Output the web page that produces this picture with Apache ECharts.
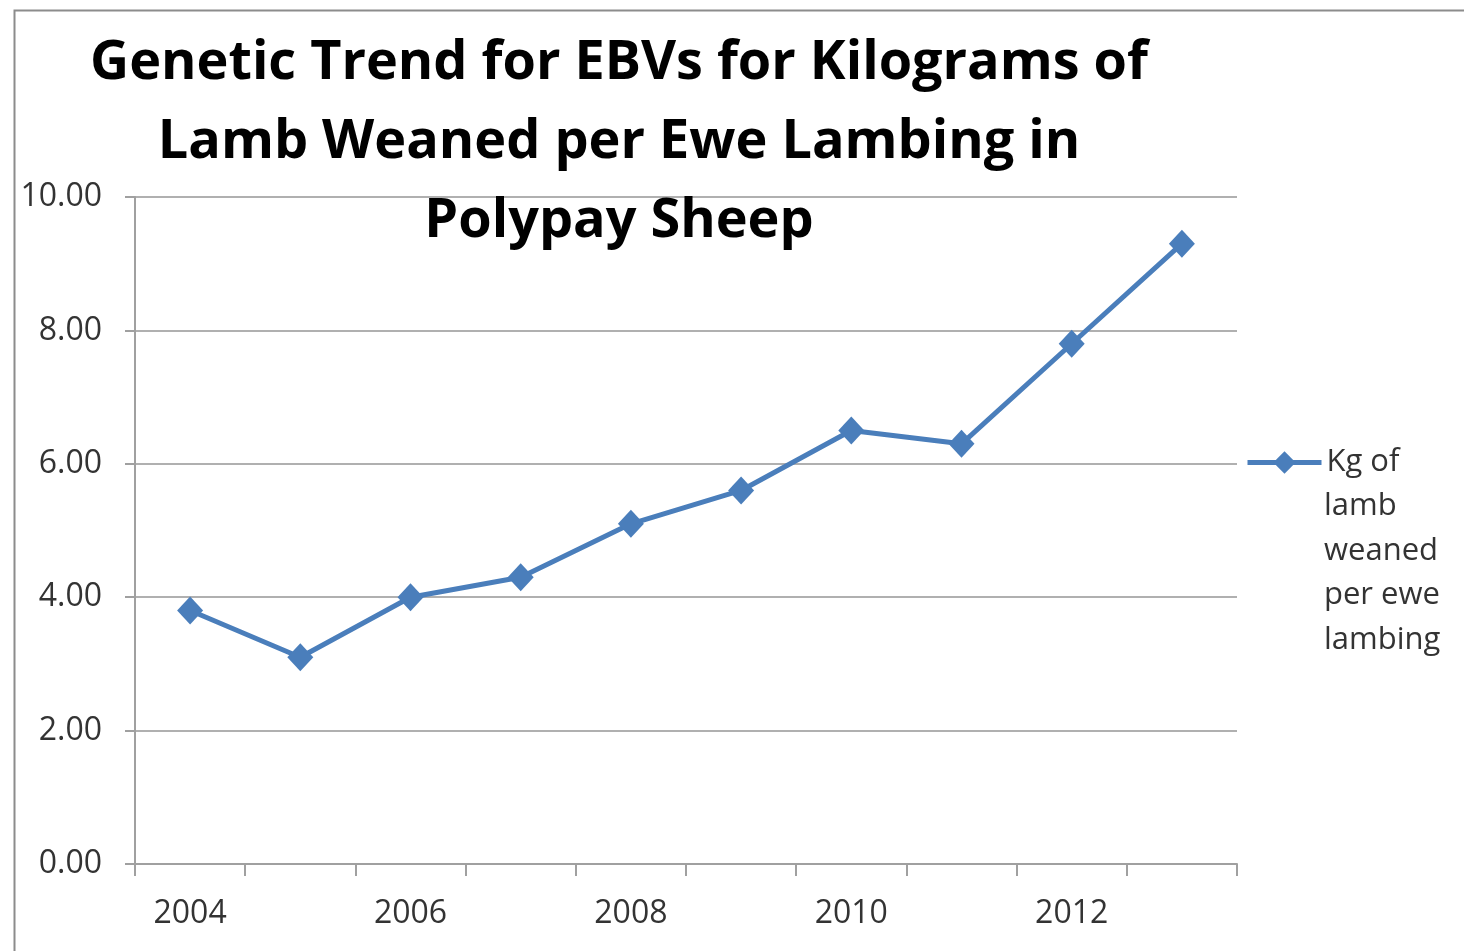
<!DOCTYPE html>
<html>
<head>
<meta charset="utf-8">
<script src="https://cdn.jsdelivr.net/npm/echarts@6/dist/echarts.min.js"></script>
<style>html,body{margin:0;padding:0;background:#fff}#c{width:1464px;height:951px}</style>
</head>
<body>
<div id="c"></div>
<script>
const titleText = 'Genetic Trend for EBVs for Kilograms of\nLamb Weaned per Ewe Lambing in\nPolypay Sheep';
const years = ['2004','2005','2006','2007','2008','2009','2010','2011','2012','2013'];
const kgWeaned = [3.8, 3.1, 4.0, 4.3, 5.1, 5.6, 6.5, 6.3, 7.8, 9.3];
const seriesName = 'Kg of lamb weaned per ewe lambing';
const legendFirstLine = 'Kg of';
const legendMoreLines = ['lamb','weaned','per ewe','lambing'];

const FONT = 'Open Sans';
const chart = echarts.init(document.getElementById('c'));
chart.setOption({
  animation: false,
  backgroundColor: '#fff',
  graphic: [{
    type: 'rect', left: 12, top: 8, z: -1,
    shape: { width: 1520, height: 1000 },
    style: { fill: 'none', stroke: '#8c8c8c', lineWidth: 2 }
  }, {
    type: 'text', left: 1324, top: 484,
    style: { text: legendMoreLines.join('\n'), font: '31px "Open Sans"', lineHeight: 44.5, fill: '#333' }
  }],
  title: {
    text: titleText,
    left: 614, top: 19, textAlign: 'center',
    textStyle: { fontFamily: FONT, fontWeight: 'bold', fontSize: 54, lineHeight: 79, color: '#000' }
  },
  legend: {
    left: 1240, top: 442,
    itemWidth: 74, itemHeight: 28, itemGap: 0,
    lineStyle: { width: 5 },
    formatter: () => legendFirstLine,
    textStyle: { fontFamily: FONT, fontSize: 31, color: '#333' }
  },
  grid: { left: 135, right: 227, top: 197, bottom: 87 },
  xAxis: {
    type: 'category', data: years, boundaryGap: true,
    axisLine: { lineStyle: { color: '#a0a0a0', width: 2 } },
    axisTick: { show: true, interval: 0, length: 12, lineStyle: { color: '#a0a0a0', width: 2 } },
    axisLabel: { interval: 1, margin: 34, fontFamily: FONT, fontSize: 32, color: '#333' },
    splitLine: { show: false }
  },
  yAxis: {
    type: 'value', min: 0, max: 10, interval: 2,
    axisLine: { show: true, lineStyle: { color: '#a0a0a0', width: 2 } },
    axisTick: { show: true, length: 10, lineStyle: { color: '#a0a0a0', width: 2 } },
    axisLabel: { margin: 33, fontFamily: FONT, fontSize: 32, color: '#333', formatter: v => v.toFixed(2) },
    splitLine: { lineStyle: { color: '#b0b0b0', width: 2 } }
  },
  series: [{
    name: seriesName, type: 'line', data: kgWeaned,
    symbol: 'diamond', symbolSize: [26, 28],
    lineStyle: { color: '#4a7ebb', width: 5 },
    itemStyle: { color: '#4a7ebb' }
  }]
});
</script>
</body>
</html>
